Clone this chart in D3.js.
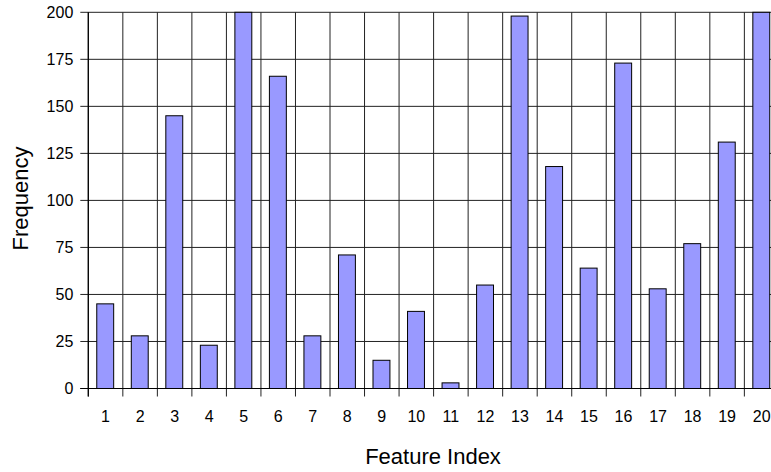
<!DOCTYPE html>
<html>
<head>
<meta charset="utf-8">
<script src="https://cdn.jsdelivr.net/npm/d3@7"></script>
<style>
  html, body { margin: 0; padding: 0; background: #fff; overflow: hidden; }
  svg { display: block; font-family: "Liberation Sans", Arial, Helvetica, sans-serif; }
</style>
</head>
<body>
<svg id="chart" width="771" height="472"></svg>
<script>
const categories = ["1","2","3","4","5","6","7","8","9","10","11","12","13","14","15","16","17","18","19","20"];
const frequency = [45, 28, 145, 23, 200, 166, 28, 71, 15, 41, 3, 55, 198, 118, 64, 173, 53, 77, 131, 200];
const yTicks = [0, 25, 50, 75, 100, 125, 150, 175, 200];
const xTitle = "Feature Index";
const yTitle = "Frequency";

const svg = d3.select("#chart");
const plotLeft = 88.3, plotTop = 12.3, plotBottom = 388.5, step = 34.53;
const plotRight = plotLeft + step * categories.length;

const x = d3.scaleBand().domain(categories).range([plotLeft, plotRight]).padding(0);
const y = d3.scaleLinear().domain([0, 200]).range([plotBottom, plotTop]);

const g = svg.append("g");

// horizontal grid lines (including tick stubs to the left)
g.selectAll(".hgrid").data(yTicks).join("line")
  .attr("x1", plotLeft - 8).attr("x2", 771)
  .attr("y1", d => y(d)).attr("y2", d => y(d))
  .attr("stroke", "#222").attr("stroke-width", 1);

// vertical grid lines at band boundaries (with tick stubs below)
const bounds = categories.map(c => x(c)).concat([plotRight]);
g.selectAll(".vgrid").data(bounds).join("line")
  .attr("x1", d => d).attr("x2", d => d)
  .attr("y1", plotTop).attr("y2", plotBottom + 8)
  .attr("stroke", "#222").attr("stroke-width", 1);

// bars
const bw = x.bandwidth();
g.selectAll(".bar").data(frequency).join("rect")
  .attr("x", (d, i) => x(categories[i]) + bw * 0.245)
  .attr("width", bw * 0.49)
  .attr("y", d => y(d))
  .attr("height", d => y(0) - y(d))
  .attr("fill", "#9999ff")
  .attr("stroke", "#000").attr("stroke-width", 1);

// axis lines
g.append("line").attr("x1", plotLeft).attr("x2", plotLeft).attr("y1", plotTop).attr("y2", plotBottom + 8)
  .attr("stroke", "#000").attr("stroke-width", 1.2);
g.append("line").attr("x1", plotLeft - 8).attr("x2", 771).attr("y1", plotBottom).attr("y2", plotBottom)
  .attr("stroke", "#000").attr("stroke-width", 1.2);

// y tick labels
g.selectAll(".ylab").data(yTicks).join("text")
  .attr("x", plotLeft - 15).attr("y", d => y(d))
  .attr("dy", "0.36em")
  .attr("text-anchor", "end")
  .attr("font-size", 16).attr("fill", "#000")
  .text(d => d);

// x tick labels
g.selectAll(".xlab").data(categories).join("text")
  .attr("x", d => x(d) + bw / 2).attr("y", 421.5)
  .attr("text-anchor", "middle")
  .attr("font-size", 16).attr("fill", "#000")
  .text(d => d);

// axis titles
svg.append("text")
  .attr("x", 433).attr("y", 464.3)
  .attr("text-anchor", "middle")
  .attr("font-size", 22).attr("fill", "#000")
  .text(xTitle);

svg.append("text")
  .attr("transform", "translate(27.5,198.5) rotate(-90)")
  .attr("text-anchor", "middle")
  .attr("font-size", 22).attr("fill", "#000")
  .text(yTitle);
</script>
</body>
</html>
